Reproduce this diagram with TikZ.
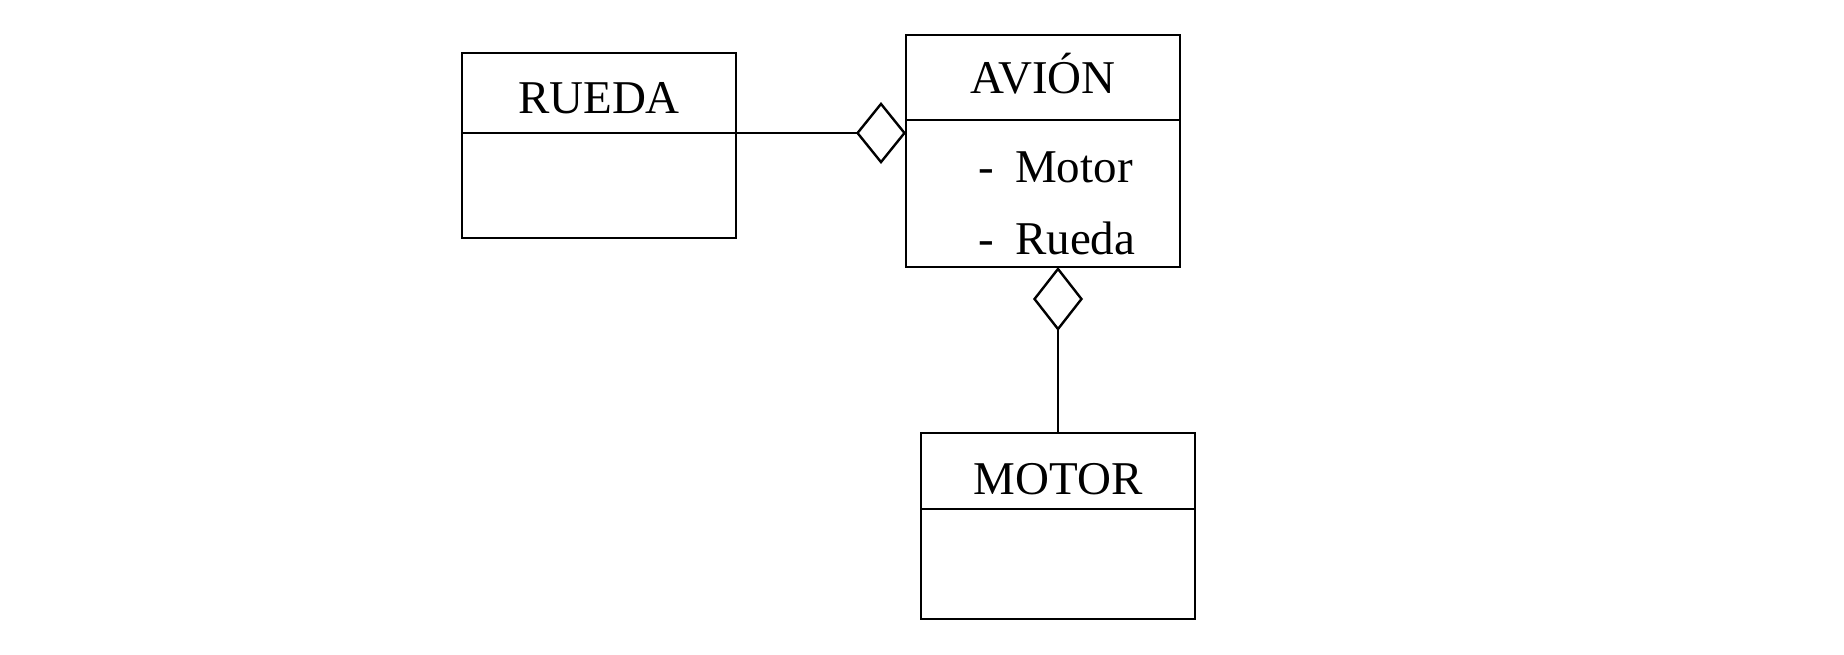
\documentclass[tikz,border=0pt]{standalone}
\usepackage{fontspec}
\setmainfont{Liberation Serif}
\usetikzlibrary{positioning,arrows.meta}

\tikzset{
  classbox/.style={draw, line width=1.4pt, outer sep=0pt, inner sep=0pt,
    minimum width=137pt, text height=20pt, text depth=0pt,
    font=\fontsize{23.5}{28}\selectfont},
  attr/.style={inner sep=0pt, font=\fontsize{23.5}{28}\selectfont},
  assoc/.style={line width=1.2pt}
}

\begin{document}
\begin{tikzpicture}[x=0.5pt, y=-0.5pt]
\useasboundingbox (0,0) rectangle (1844,654);

% === Classes ===
\node[classbox, minimum height=40pt] (rueda) at (599,93) {RUEDA};
\node[classbox, minimum height=52.5pt, below=0pt of rueda] (rueda-body) {};

\node[classbox, minimum height=42.5pt, text height=16pt] (avion) at (1043,77.5) {AVIÓN};
\node[classbox, minimum height=73.5pt, below=0pt of avion] (avion-body) {};

\node[classbox, minimum height=38pt, text height=23pt] (motor) at (1058,471) {MOTOR};
\node[classbox, minimum height=55pt, below=0pt of motor] (motor-body) {};

% === Attributes ===
\node[attr, anchor=base west] (attr-motor)
  at ([xshift=36pt, yshift=-31pt]avion-body.north west) {-\hspace{0.45em}Motor};
\node[attr, anchor=base west] (attr-rueda)
  at ([xshift=36pt, yshift=-67pt]avion-body.north west) {-\hspace{0.45em}Rueda};

% === Aggregations ===
\draw[assoc, -{Diamond[open, length=25pt, width=31pt]}]
  (rueda.south east) -- (rueda.south east -| avion.west);
\draw[assoc, -{Diamond[open, length=32pt, width=25pt]}]
  (motor.north) -- (motor.north |- avion-body.south);
\end{tikzpicture}
\end{document}
